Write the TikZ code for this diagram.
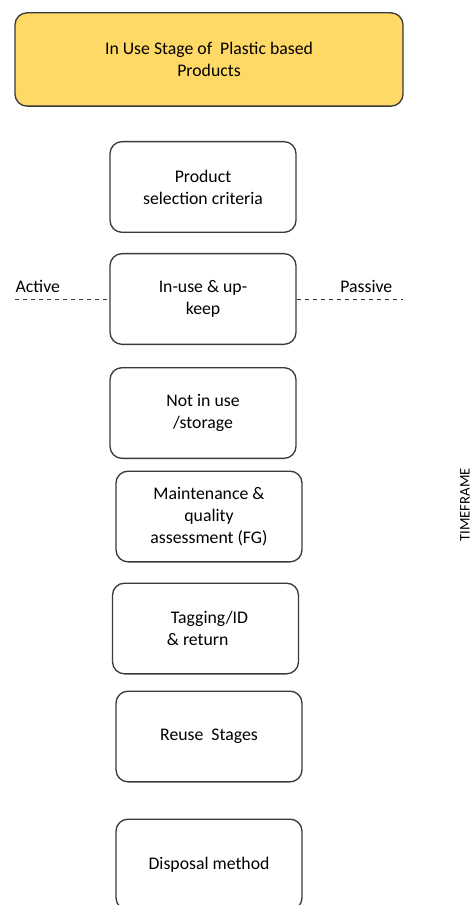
\documentclass[tikz,border=0pt]{standalone}
\usepackage{fontspec}
\setmainfont{Carlito}
\definecolor{titlefill}{HTML}{FFD966}
\definecolor{edge}{HTML}{3A3A3A}
\tikzset{
  stage/.style={draw=edge, line width=1pt, rounded corners=9pt, minimum width=139.5pt, minimum height=68pt, align=center, font=\fontsize{13.3}{16.5}\selectfont},
  side/.style={font=\fontsize{13.3}{16.5}\selectfont}
}

\begin{document}
\begin{tikzpicture}[x=0.75pt, y=-0.75pt]
      \useasboundingbox (0, 0) rectangle (475, 905);
      \node[stage, fill=titlefill, minimum width=291pt, minimum height=70pt] (T) at (209, 59.5) {In Use Stage of \ Plastic based\\Products};
      \node[stage] (S) at (203, 187) {Product\\selection criteria};
      \node[stage] (U) at (203, 299) {In-use \& up-\\keep};
      \node[stage] (N) at (203, 413) {Not in use\\/storage};
      \node[stage] (M) at (209, 516.5) {Maintenance \&\\quality\\assessment (FG)};
      \node[stage, align=left] (G) at (205.5, 628.5) {\ \ Tagging/ID\\\ \& return};
      \node[stage] (R) at (209, 736.5) {Reuse \ Stages};
      \node[stage] (D) at (209, 864.5) {Disposal method};
      \coordinate (AL) at (15, 299);
      \coordinate (PR) at (403, 299);
      \node[side, anchor=base west] (A) at (11, 292) {Active};
      \node[side, anchor=base east] (P) at (397, 292) {Passive};
      \node[font=\fontsize{11}{13}\selectfont, rotate=90] (F) at (465, 505) {TIMEFRAME};
      \draw[dashed, edge, line width=0.6pt] (AL) -- (U.west);
      \draw[dashed, edge, line width=0.6pt] (U.east) -- (PR);
    \end{tikzpicture}
\end{document}
